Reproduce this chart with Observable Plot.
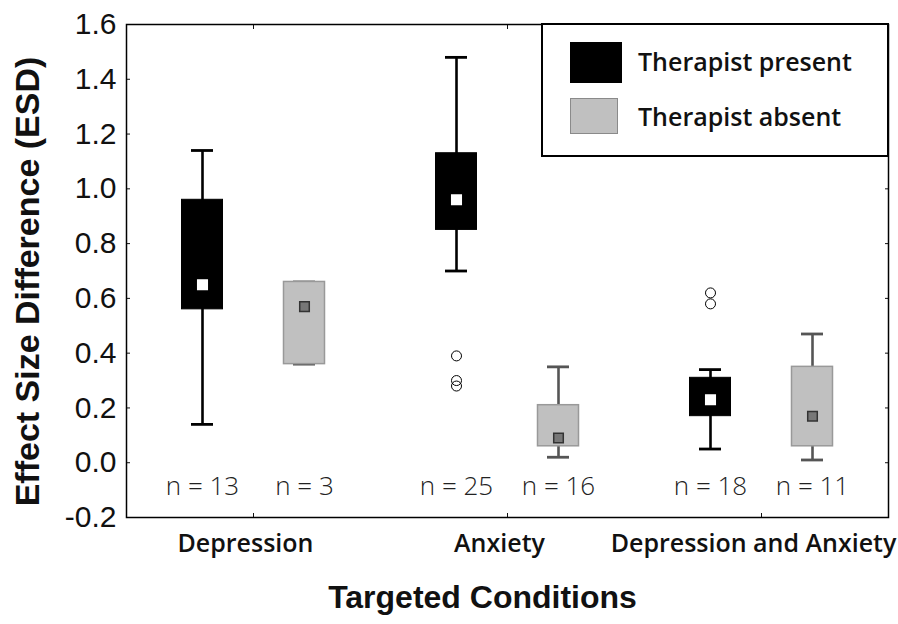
<!DOCTYPE html>
<html><head><meta charset="utf-8">
<script src="https://cdn.jsdelivr.net/npm/d3@7"></script>
<script src="https://cdn.jsdelivr.net/npm/@observablehq/plot@0.6"></script>
<style>
body{margin:0;background:#fff;}
#wrap{position:relative;width:898px;height:624px;overflow:hidden;}
#legend{position:absolute;left:541px;top:23px;width:348px;height:134px;box-sizing:border-box;border:2.5px solid #000;background:#fff;}
.sw{position:absolute;}
.lt{position:absolute;font-family:"Open Sans",sans-serif;font-weight:600;font-size:25px;color:#111;white-space:nowrap;line-height:1;}
</style></head><body><div id="wrap"></div>
<script>
// ---- data ----
const categories = ["Depression", "Anxiety", "Depression and Anxiety"];
const groups = ["Therapist present", "Therapist absent"];

const presentMin    = [0.14, 0.70, 0.05];
const presentQ1     = [0.56, 0.85, 0.17];
const presentMedian = [0.65, 0.96, 0.23];
const presentQ3     = [0.96, 1.13, 0.31];
const presentMax    = [1.14, 1.48, 0.34];
const presentN      = [13, 25, 18];

const absentMin    = [0.36, 0.02, 0.01];
const absentQ1     = [0.36, 0.06, 0.06];
const absentMedian = [0.57, 0.09, 0.17];
const absentQ3     = [0.66, 0.21, 0.35];
const absentMax    = [0.66, 0.35, 0.47];
const absentN      = [3, 16, 11];

const outlierCategory = ["Anxiety", "Anxiety", "Anxiety", "Depression and Anxiety", "Depression and Anxiety"];
const outlierValue    = [0.39, 0.30, 0.28, 0.62, 0.58];

const yTicks = [-0.2, 0, 0.2, 0.4, 0.6, 0.8, 1.0, 1.2, 1.4, 1.6];

// ---- build tables ----
const present = categories.map((c, i) => ({category: c, group: groups[0], min: presentMin[i], q1: presentQ1[i], median: presentMedian[i], q3: presentQ3[i], max: presentMax[i], n: presentN[i]}));
const absent = categories.map((c, i) => ({category: c, group: groups[1], min: absentMin[i], q1: absentQ1[i], median: absentMedian[i], q3: absentQ3[i], max: absentMax[i], n: absentN[i]}));
const outliers = outlierCategory.map((c, i) => ({category: c, value: outlierValue[i]}));

const fmt = d => d.toFixed(1);

function boxMarks(data, dx, s) {
  return [
    Plot.ruleX(data, {x: "category", y1: "min", y2: "max", dx, stroke: s.whisker, strokeWidth: 2.6}),
    Plot.tickY(data, {x: "category", y: "min", dx, insetLeft: 116, insetRight: 116, stroke: s.whisker, strokeWidth: 2.8}),
    Plot.tickY(data, {x: "category", y: "max", dx, insetLeft: 116, insetRight: 116, stroke: s.whisker, strokeWidth: 2.8}),
    Plot.barY(data, {x: "category", y1: "q1", y2: "q3", dx, insetLeft: 106.5, insetRight: 106.5, fill: s.fill, stroke: s.stroke, strokeWidth: s.sw}),
    Plot.dot(data, {x: "category", y: "median", dx, symbol: "square", r: 5.4, fill: s.mfill, stroke: s.mstroke, strokeWidth: 1.5}),
    Plot.text(data, {x: "category", text: d => `n = ${d.n}`, frameAnchor: "bottom", dy: -23, dx, fontSize: 26, fontWeight: 300, fill: "#222", fontFamily: "Open Sans"})
  ];
}

const plot = Plot.plot({
  width: 898,
  height: 624,
  marginLeft: 126,
  marginRight: 10,
  marginTop: 24,
  marginBottom: 107,
  style: {background: "#fff", color: "#111", overflow: "visible"},
  x: {type: "band", domain: categories, padding: 0, axis: null},
  y: {domain: [-0.2, 1.6], axis: null},
  marks: [
    // axes
    Plot.axisY({anchor: "left", ticks: yTicks, tickSize: 0, tickPadding: 10, fontSize: 30, fontFamily: "Liberation Sans", tickFormat: fmt, label: null}),
    Plot.axisY({anchor: "left", ticks: yTicks, tickSize: -4, tickFormat: () => "", label: null}),
    Plot.axisY({anchor: "right", ticks: yTicks, tickSize: -4, tickFormat: () => "", label: null}),
    Plot.axisX({anchor: "bottom", tickSize: 0, tickPadding: 17, fontSize: 25, fontWeight: 600, fontFamily: "Open Sans", dx: -8, label: null}),
    Plot.axisX({anchor: "bottom", tickSize: -4, tickFormat: () => "", label: null}),
    Plot.axisX({anchor: "top", tickSize: -4, tickFormat: () => "", label: null}),
    // boxes
    ...boxMarks(present, -51, {whisker: "#000", fill: "#000", stroke: "#000", sw: 1, mfill: "#fff", mstroke: "#fff"}),
    ...boxMarks(absent, 51, {whisker: "#555", fill: "#c0c0c0", stroke: "#999", sw: 1.5, mfill: "#777", mstroke: "#333"}),
    Plot.dot(outliers, {x: "category", y: "value", dx: -51, r: 5, stroke: "#000", strokeWidth: 1, fill: "none"}),
    Plot.frame({stroke: "#000", strokeWidth: 1.5}),
    // titles
    Plot.text(["Effect Size Difference (ESD)"], {frameAnchor: "left", textAnchor: "middle", dx: -98, dy: 10.5, rotate: -90, fontSize: 34, fontWeight: "bold", fontFamily: "Liberation Sans", fill: "#111"}),
    Plot.text(["Targeted Conditions"], {frameAnchor: "bottom", textAnchor: "middle", dx: -25, dy: 90, fontSize: 32, fontWeight: "bold", fontFamily: "Liberation Sans", fill: "#111"})
  ]
});

const wrap = document.getElementById("wrap");
wrap.appendChild(plot);

// legend (inside the plot area, top-right)
const legend = document.createElement("div");
legend.id = "legend";
legend.innerHTML = `
  <div class="sw" style="left:27px;top:17px;width:52px;height:41px;background:#000;"></div>
  <div class="lt" style="left:95px;top:24px;">${groups[0]}</div>
  <div class="sw" style="left:27px;top:73px;width:48px;height:36px;background:#c0c0c0;border:1.5px solid #8a8a8a;box-sizing:border-box;"></div>
  <div class="lt" style="left:95px;top:79px;">${groups[1]}</div>`;
wrap.appendChild(legend);
</script>
</body></html>
